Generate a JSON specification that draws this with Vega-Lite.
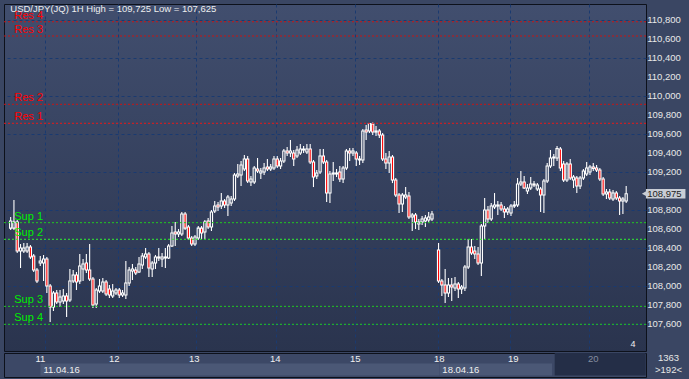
{
"$schema":"https://vega.github.io/schema/vega-lite/v6.json",
"background":"#3a4663",
"padding":{"left":3,"top":3,"right":0,"bottom":2},
"spacing":0,
"config":{"font":"Liberation Sans","axis":{"labels":false,"ticks":false,"domain":false,"grid":false,"titleOpacity":0,"titleFontSize":1,"titlePadding":0,"labelPadding":0,"minExtent":0,"maxExtent":0}},
"datasets":{
"candles":[
{"i":0,"o":108.613,"h":108.730,"l":108.592,"c":108.687},
{"i":1,"o":108.613,"h":108.908,"l":108.592,"c":108.677},
{"i":2,"o":108.677,"h":108.698,"l":108.351,"c":108.372},
{"i":3,"o":108.372,"h":108.445,"l":108.193,"c":108.403},
{"i":4,"o":108.372,"h":108.456,"l":108.351,"c":108.403},
{"i":5,"o":108.372,"h":108.456,"l":108.351,"c":108.414},
{"i":6,"o":108.414,"h":108.435,"l":108.288,"c":108.309},
{"i":7,"o":108.319,"h":108.340,"l":108.151,"c":108.172},
{"i":8,"o":108.172,"h":108.193,"l":108.035,"c":108.056},
{"i":9,"o":108.245,"h":108.319,"l":108.214,"c":108.266},
{"i":10,"o":108.245,"h":108.330,"l":108.056,"c":108.288},
{"i":11,"o":108.288,"h":108.309,"l":107.930,"c":108.003},
{"i":12,"o":108.003,"h":108.024,"l":107.625,"c":107.782},
{"i":13,"o":107.782,"h":107.951,"l":107.740,"c":107.930},
{"i":14,"o":107.930,"h":107.961,"l":107.814,"c":107.835},
{"i":15,"o":107.835,"h":107.961,"l":107.782,"c":107.887},
{"i":16,"o":107.845,"h":107.972,"l":107.814,"c":107.898},
{"i":17,"o":107.898,"h":107.930,"l":107.677,"c":107.845},
{"i":18,"o":107.856,"h":108.182,"l":107.835,"c":108.056},
{"i":19,"o":108.056,"h":108.172,"l":108.035,"c":108.119},
{"i":20,"o":108.119,"h":108.151,"l":107.961,"c":108.045},
{"i":21,"o":108.056,"h":108.340,"l":108.024,"c":108.214},
{"i":22,"o":108.182,"h":108.288,"l":108.056,"c":108.235},
{"i":23,"o":108.245,"h":108.340,"l":108.140,"c":108.172},
{"i":24,"o":108.172,"h":108.445,"l":108.056,"c":108.077},
{"i":25,"o":108.077,"h":108.098,"l":107.772,"c":107.803},
{"i":26,"o":107.814,"h":107.982,"l":107.772,"c":107.961},
{"i":27,"o":107.951,"h":108.077,"l":107.930,"c":108.003},
{"i":28,"o":107.951,"h":108.087,"l":107.930,"c":108.045},
{"i":29,"o":108.045,"h":108.066,"l":107.898,"c":107.919},
{"i":30,"o":107.972,"h":108.014,"l":107.877,"c":107.909},
{"i":31,"o":107.898,"h":108.024,"l":107.877,"c":107.951},
{"i":32,"o":107.930,"h":107.982,"l":107.909,"c":107.961},
{"i":33,"o":107.961,"h":107.982,"l":107.877,"c":107.909},
{"i":34,"o":107.909,"h":107.961,"l":107.887,"c":107.930},
{"i":35,"o":107.909,"h":108.266,"l":107.866,"c":108.035},
{"i":36,"o":108.035,"h":108.203,"l":108.003,"c":108.172},
{"i":37,"o":108.161,"h":108.235,"l":108.066,"c":108.182},
{"i":38,"o":108.172,"h":108.203,"l":108.119,"c":108.140},
{"i":39,"o":108.151,"h":108.309,"l":108.140,"c":108.235},
{"i":40,"o":108.224,"h":108.351,"l":108.182,"c":108.319},
{"i":41,"o":108.309,"h":108.403,"l":108.288,"c":108.340},
{"i":42,"o":108.340,"h":108.361,"l":108.098,"c":108.193},
{"i":43,"o":108.182,"h":108.266,"l":108.098,"c":108.245},
{"i":44,"o":108.245,"h":108.330,"l":108.182,"c":108.309},
{"i":45,"o":108.309,"h":108.403,"l":108.266,"c":108.298},
{"i":46,"o":108.288,"h":108.351,"l":108.203,"c":108.309},
{"i":47,"o":108.298,"h":108.403,"l":108.193,"c":108.309},
{"i":48,"o":108.298,"h":108.445,"l":108.288,"c":108.424},
{"i":49,"o":108.424,"h":108.635,"l":108.414,"c":108.561},
{"i":50,"o":108.572,"h":108.677,"l":108.424,"c":108.551},
{"i":51,"o":108.551,"h":108.603,"l":108.519,"c":108.572},
{"i":52,"o":108.551,"h":108.782,"l":108.529,"c":108.761},
{"i":53,"o":108.761,"h":108.782,"l":108.592,"c":108.613},
{"i":54,"o":108.624,"h":108.645,"l":108.487,"c":108.508},
{"i":55,"o":108.508,"h":108.529,"l":108.424,"c":108.445},
{"i":56,"o":108.445,"h":108.540,"l":108.424,"c":108.519},
{"i":57,"o":108.508,"h":108.635,"l":108.487,"c":108.613},
{"i":58,"o":108.613,"h":108.635,"l":108.498,"c":108.561},
{"i":59,"o":108.572,"h":108.698,"l":108.498,"c":108.677},
{"i":60,"o":108.687,"h":108.719,"l":108.603,"c":108.624},
{"i":61,"o":108.624,"h":108.803,"l":108.582,"c":108.782},
{"i":62,"o":108.793,"h":108.898,"l":108.772,"c":108.845},
{"i":63,"o":108.856,"h":108.887,"l":108.793,"c":108.835},
{"i":64,"o":108.845,"h":108.982,"l":108.814,"c":108.898},
{"i":65,"o":108.898,"h":108.919,"l":108.824,"c":108.856},
{"i":66,"o":108.856,"h":108.961,"l":108.740,"c":108.940},
{"i":67,"o":108.877,"h":108.951,"l":108.845,"c":108.919},
{"i":68,"o":108.919,"h":109.193,"l":108.898,"c":109.172},
{"i":69,"o":109.161,"h":109.287,"l":109.140,"c":109.182},
{"i":70,"o":109.172,"h":109.319,"l":109.056,"c":109.277},
{"i":71,"o":109.235,"h":109.382,"l":109.214,"c":109.340},
{"i":72,"o":109.340,"h":109.372,"l":109.087,"c":109.108},
{"i":73,"o":109.098,"h":109.161,"l":109.056,"c":109.129},
{"i":74,"o":109.098,"h":109.266,"l":109.077,"c":109.245},
{"i":75,"o":109.235,"h":109.351,"l":109.193,"c":109.214},
{"i":76,"o":109.193,"h":109.245,"l":109.129,"c":109.214},
{"i":77,"o":109.203,"h":109.298,"l":109.172,"c":109.245},
{"i":78,"o":109.256,"h":109.340,"l":109.214,"c":109.235},
{"i":79,"o":109.235,"h":109.287,"l":109.214,"c":109.256},
{"i":80,"o":109.245,"h":109.372,"l":109.224,"c":109.340},
{"i":81,"o":109.340,"h":109.372,"l":109.245,"c":109.266},
{"i":82,"o":109.266,"h":109.351,"l":109.235,"c":109.319},
{"i":83,"o":109.319,"h":109.445,"l":109.298,"c":109.424},
{"i":84,"o":109.424,"h":109.466,"l":109.372,"c":109.403},
{"i":85,"o":109.403,"h":109.540,"l":109.361,"c":109.424},
{"i":86,"o":109.403,"h":109.435,"l":109.266,"c":109.340},
{"i":87,"o":109.372,"h":109.477,"l":109.351,"c":109.435},
{"i":88,"o":109.403,"h":109.498,"l":109.382,"c":109.445},
{"i":89,"o":109.435,"h":109.477,"l":109.403,"c":109.445},
{"i":90,"o":109.414,"h":109.498,"l":109.393,"c":109.445},
{"i":91,"o":109.445,"h":109.498,"l":109.287,"c":109.308},
{"i":92,"o":109.308,"h":109.330,"l":109.045,"c":109.151},
{"i":93,"o":109.161,"h":109.224,"l":109.129,"c":109.193},
{"i":94,"o":109.203,"h":109.445,"l":109.182,"c":109.372},
{"i":95,"o":109.372,"h":109.445,"l":109.287,"c":109.308},
{"i":96,"o":109.308,"h":109.330,"l":108.887,"c":108.982},
{"i":97,"o":108.982,"h":109.214,"l":108.877,"c":109.182},
{"i":98,"o":109.182,"h":109.308,"l":109.108,"c":109.193},
{"i":99,"o":109.182,"h":109.235,"l":109.151,"c":109.193},
{"i":100,"o":109.203,"h":109.266,"l":109.098,"c":109.129},
{"i":101,"o":109.129,"h":109.266,"l":109.087,"c":109.245},
{"i":102,"o":109.245,"h":109.445,"l":109.224,"c":109.424},
{"i":103,"o":109.424,"h":109.456,"l":109.319,"c":109.403},
{"i":104,"o":109.403,"h":109.456,"l":109.372,"c":109.424},
{"i":105,"o":109.403,"h":109.424,"l":109.266,"c":109.340},
{"i":106,"o":109.330,"h":109.372,"l":109.277,"c":109.340},
{"i":107,"o":109.330,"h":109.656,"l":109.298,"c":109.635},
{"i":108,"o":109.645,"h":109.698,"l":109.540,"c":109.624},
{"i":109,"o":109.635,"h":109.720,"l":109.614,"c":109.714},
{"i":110,"o":109.708,"h":109.725,"l":109.593,"c":109.624},
{"i":111,"o":109.624,"h":109.687,"l":109.582,"c":109.635},
{"i":112,"o":109.635,"h":109.656,"l":109.561,"c":109.593},
{"i":113,"o":109.593,"h":109.614,"l":109.319,"c":109.340},
{"i":114,"o":109.340,"h":109.403,"l":109.235,"c":109.298},
{"i":115,"o":109.298,"h":109.424,"l":109.193,"c":109.361},
{"i":116,"o":109.361,"h":109.382,"l":109.087,"c":109.119},
{"i":117,"o":109.119,"h":109.140,"l":108.940,"c":108.961},
{"i":118,"o":108.961,"h":108.982,"l":108.772,"c":108.866},
{"i":119,"o":108.866,"h":108.982,"l":108.782,"c":108.961},
{"i":120,"o":108.940,"h":109.045,"l":108.919,"c":108.961},
{"i":121,"o":108.951,"h":108.993,"l":108.708,"c":108.730},
{"i":122,"o":108.730,"h":108.772,"l":108.582,"c":108.751},
{"i":123,"o":108.751,"h":108.772,"l":108.603,"c":108.677},
{"i":124,"o":108.656,"h":108.708,"l":108.592,"c":108.677},
{"i":125,"o":108.677,"h":108.740,"l":108.645,"c":108.708},
{"i":126,"o":108.687,"h":108.751,"l":108.624,"c":108.719},
{"i":127,"o":108.698,"h":108.782,"l":108.666,"c":108.730},
{"i":128,"o":108.708,"h":108.793,"l":108.687,"c":108.761},
{"i":130,"o":108.382,"h":108.456,"l":108.035,"c":108.056},
{"i":131,"o":108.056,"h":108.077,"l":107.898,"c":108.014},
{"i":132,"o":108.014,"h":108.182,"l":107.824,"c":107.930},
{"i":133,"o":107.930,"h":108.087,"l":107.887,"c":108.014},
{"i":134,"o":108.014,"h":108.087,"l":107.845,"c":107.993},
{"i":135,"o":107.982,"h":108.098,"l":107.951,"c":108.024},
{"i":136,"o":108.024,"h":108.045,"l":107.877,"c":107.972},
{"i":137,"o":107.972,"h":108.014,"l":107.919,"c":107.993},
{"i":138,"o":107.982,"h":108.224,"l":107.951,"c":108.203},
{"i":139,"o":108.203,"h":108.498,"l":108.182,"c":108.414},
{"i":140,"o":108.414,"h":108.498,"l":108.330,"c":108.351},
{"i":141,"o":108.372,"h":108.424,"l":108.288,"c":108.340},
{"i":142,"o":108.340,"h":108.414,"l":108.224,"c":108.245},
{"i":143,"o":108.245,"h":108.656,"l":108.108,"c":108.635},
{"i":144,"o":108.635,"h":108.929,"l":108.498,"c":108.803},
{"i":145,"o":108.803,"h":108.845,"l":108.666,"c":108.708},
{"i":146,"o":108.708,"h":108.877,"l":108.687,"c":108.845},
{"i":147,"o":108.835,"h":108.982,"l":108.814,"c":108.856},
{"i":148,"o":108.845,"h":108.898,"l":108.751,"c":108.856},
{"i":149,"o":108.856,"h":108.887,"l":108.793,"c":108.814},
{"i":150,"o":108.814,"h":108.845,"l":108.719,"c":108.782},
{"i":151,"o":108.782,"h":108.835,"l":108.751,"c":108.814},
{"i":152,"o":108.772,"h":108.866,"l":108.740,"c":108.845},
{"i":153,"o":108.845,"h":108.898,"l":108.824,"c":108.856},
{"i":154,"o":108.856,"h":109.140,"l":108.835,"c":109.077},
{"i":155,"o":109.077,"h":109.214,"l":109.056,"c":109.098},
{"i":156,"o":109.098,"h":109.161,"l":109.024,"c":109.035},
{"i":157,"o":109.003,"h":109.077,"l":108.972,"c":109.035},
{"i":158,"o":109.035,"h":109.151,"l":109.014,"c":109.077},
{"i":159,"o":109.077,"h":109.108,"l":109.045,"c":109.066},
{"i":160,"o":109.024,"h":109.087,"l":109.003,"c":109.066},
{"i":161,"o":109.024,"h":109.045,"l":108.782,"c":108.961},
{"i":162,"o":108.961,"h":109.129,"l":108.772,"c":109.108},
{"i":163,"o":109.108,"h":109.298,"l":109.087,"c":109.266},
{"i":164,"o":109.266,"h":109.435,"l":109.245,"c":109.351},
{"i":165,"o":109.351,"h":109.393,"l":109.266,"c":109.361},
{"i":166,"o":109.351,"h":109.477,"l":109.319,"c":109.450},
{"i":167,"o":109.445,"h":109.466,"l":109.214,"c":109.245},
{"i":168,"o":109.287,"h":109.319,"l":109.098,"c":109.119},
{"i":169,"o":109.119,"h":109.308,"l":109.098,"c":109.287},
{"i":170,"o":109.287,"h":109.340,"l":109.119,"c":109.140},
{"i":171,"o":109.119,"h":109.172,"l":109.035,"c":109.151},
{"i":172,"o":109.140,"h":109.161,"l":108.982,"c":109.056},
{"i":173,"o":109.056,"h":109.161,"l":109.024,"c":109.140},
{"i":174,"o":109.140,"h":109.235,"l":109.119,"c":109.214},
{"i":175,"o":109.182,"h":109.308,"l":109.161,"c":109.245},
{"i":176,"o":109.203,"h":109.277,"l":109.172,"c":109.256},
{"i":177,"o":109.256,"h":109.298,"l":109.214,"c":109.240},
{"i":178,"o":109.245,"h":109.277,"l":109.203,"c":109.224},
{"i":179,"o":109.224,"h":109.245,"l":109.108,"c":109.129},
{"i":180,"o":109.129,"h":109.151,"l":108.951,"c":108.972},
{"i":181,"o":108.972,"h":109.024,"l":108.919,"c":108.993},
{"i":182,"o":108.993,"h":109.024,"l":108.908,"c":108.929},
{"i":183,"o":108.919,"h":109.014,"l":108.898,"c":108.982},
{"i":184,"o":108.982,"h":109.003,"l":108.908,"c":108.929},
{"i":185,"o":108.929,"h":108.951,"l":108.751,"c":108.898},
{"i":186,"o":108.898,"h":108.940,"l":108.761,"c":108.919},
{"i":187,"o":108.898,"h":109.056,"l":108.877,"c":108.975}
],
"levels":[
{"name":"Res 4","value":110.785},{"name":"Res 3","value":110.635},{"name":"Res 2","value":109.916},{"name":"Res 1","value":109.716},
{"name":"Sup 1","value":108.67},{"name":"Sup 2","value":108.495},{"name":"Sup 3","value":107.789},{"name":"Sup 4","value":107.6}
],
"ticks":[
{"v":110.8,"t":"110,800"},{"v":110.6,"t":"110,600"},{"v":110.4,"t":"110,400"},{"v":110.2,"t":"110,200"},{"v":110.0,"t":"110,000"},
{"v":109.8,"t":"109,800"},{"v":109.6,"t":"109,600"},{"v":109.4,"t":"109,400"},{"v":109.2,"t":"109,200"},
{"v":108.8,"t":"108,800"},{"v":108.6,"t":"108,600"},{"v":108.4,"t":"108,400"},{"v":108.2,"t":"108,200"},{"v":108.0,"t":"108,000"},
{"v":107.8,"t":"107,800"},{"v":107.6,"t":"107,600"}
],
"days":[
{"pos":10.36,"label":"11"},{"pos":32.49,"label":"12"},{"pos":56.41,"label":"13"},{"pos":80.64,"label":"14"},
{"pos":104.56,"label":"15"},{"pos":129.68,"label":"18"},{"pos":151.81,"label":"19"},{"pos":175.74,"label":"20"}
],
"strips":[
{"start":10.4,"end":129.6,"label":"11.04.16"},{"start":129.7,"end":163.4,"label":"18.04.16"}
]
},
"vconcat":[
{
"width":642,"height":347,
"view":{"fill":{"gradient":"linear","x1":0,"y1":0,"x2":0,"y2":1,"stops":[{"offset":0,"color":"#414e6e"},{"offset":1,"color":"#2a344e"}]},"stroke":"#0d111b","strokeWidth":1},
"layer":[
{
"data":{"name":"candles"},
"encoding":{
"x":{"field":"i","type":"quantitative","scale":{"domain":[-0.5,191.5],"nice":false,"zero":false},
"axis":{"values":[10.36,32.49,56.41,80.64,104.56,129.68,151.81,175.74],"grid":true,"gridColor":"#1a3a70","gridDash":[3,3],"labels":false,"ticks":false,"domain":false,"title":null}},
"y":{"type":"quantitative","scale":{"domain":[107.319,110.972],"nice":false,"zero":false},
"axis":{"orient":"right","values":[107.6,107.8,108,108.2,108.4,108.6,108.8,109,109.2,109.4,109.6,109.8,110,110.2,110.4,110.6,110.8],"grid":true,"gridColor":"#1a3a70","gridDash":[3,3],"labels":false,"ticks":false,"domain":false,"title":null,"minExtent":44,"maxExtent":44}}
},
"layer":[
{"transform":[{"filter":"datum.c >= datum.o"}],"mark":{"type":"rule","color":"#ffffff","strokeWidth":1.1},"encoding":{"y":{"field":"h"},"y2":{"field":"c"}}},
{"transform":[{"filter":"datum.c >= datum.o"}],"mark":{"type":"rule","color":"#ffffff","strokeWidth":1.1},"encoding":{"y":{"field":"o"},"y2":{"field":"l"}}},
{"transform":[{"filter":"datum.c >= datum.o"}],"mark":{"type":"bar","width":2.2,"fill":"transparent","stroke":"#ffffff","strokeWidth":1.1},"encoding":{"y":{"field":"o"},"y2":{"field":"c"}}},
{"transform":[{"filter":"datum.c < datum.o"}],"mark":{"type":"rule","color":"#ffffff","strokeWidth":1.1},"encoding":{"y":{"field":"h"},"y2":{"field":"o"}}},
{"transform":[{"filter":"datum.c < datum.o"}],"mark":{"type":"rule","color":"#ffffff","strokeWidth":1.1},"encoding":{"y":{"field":"c"},"y2":{"field":"l"}}},
{"transform":[{"filter":"datum.c < datum.o"}],"mark":{"type":"bar","width":2.2,"fill":"#ff0000","stroke":"#ffffff","strokeWidth":1.1},"encoding":{"y":{"field":"o"},"y2":{"field":"c"}}}
]
},
{"data":{"name":"levels"},"mark":{"type":"rule","strokeDash":[2,2],"strokeWidth":1},
"encoding":{"y":{"field":"value","type":"quantitative","scale":{"domain":[107.319,110.972],"nice":false,"zero":false}},
"stroke":{"field":"name","type":"nominal","scale":{"domain":["Res 1","Res 2","Res 3","Res 4","Sup 1","Sup 2","Sup 3","Sup 4"],"range":["#e81818","#c81414","#c81414","#c81414","#22c822","#30f030","#22c822","#22c822"]},"legend":null}}},
{"data":{"name":"levels"},"mark":{"type":"text","align":"left","baseline":"alphabetic","dy":-3,"fontSize":11},
"encoding":{"x":{"datum":1.1,"type":"quantitative"},"y":{"field":"value","type":"quantitative"},"text":{"field":"name"},
"fill":{"field":"name","type":"nominal","scale":{"domain":["Res 1","Res 2","Res 3","Res 4","Sup 1","Sup 2","Sup 3","Sup 4"],"range":["#ff0000","#ff0000","#ff0000","#ff0000","#00ee00","#00ee00","#00ee00","#00ee00"]},"legend":null}}},
{"data":{"name":"ticks"},"mark":{"type":"text","align":"left","baseline":"middle","fontSize":9.5,"color":"#e8e8e8"},
"encoding":{"x":{"datum":193.4,"type":"quantitative"},"y":{"field":"v","type":"quantitative"},"text":{"field":"t"}}},
{"data":{"values":[{"label":"108,975","value":108.975}]},"mark":{"type":"rect","color":"#c9cdd5"},
"encoding":{"x":{"datum":193.0,"type":"quantitative"},"x2":{"datum":205},"y":{"datum":108.925,"type":"quantitative"},"y2":{"datum":109.025}}},
{"data":{"values":[{"label":"108,975","value":108.975}]},"mark":{"type":"point","shape":"triangle-left","filled":true,"color":"#c9cdd5","size":40,"opacity":1},
"encoding":{"x":{"datum":192.6,"type":"quantitative"},"y":{"field":"value","type":"quantitative"}}},
{"data":{"values":[{"label":"108,975","value":108.975}]},"mark":{"type":"text","align":"left","baseline":"middle","fontSize":9.5,"color":"#222222"},
"encoding":{"x":{"datum":193.4,"type":"quantitative"},"y":{"field":"value","type":"quantitative"},"text":{"field":"label"}}},
{"data":{"values":[{"text":"USD/JPY(JQ) 1H High = 109,725 Low = 107,625"}]},"mark":{"type":"text","align":"left","baseline":"middle","fontSize":9.5,"color":"#eeeeee"},
"encoding":{"x":{"datum":-0.1,"type":"quantitative"},"y":{"datum":110.915,"type":"quantitative"},"text":{"field":"text"}}},
{"data":{"values":[{"text":"4"}]},"mark":{"type":"text","align":"center","baseline":"middle","fontSize":9,"color":"#eeeeee"},
"encoding":{"x":{"datum":189.1,"type":"quantitative"},"y":{"datum":107.393,"type":"quantitative"},"text":{"field":"text"}}}
]
},
{
"width":642,"height":24,
"view":{"fill":"#3c4866","stroke":"#0d111b","strokeWidth":1},
"layer":[
{"data":{"name":"strips"},"mark":{"type":"rect","color":"#4b5876"},
"encoding":{"x":{"field":"start","type":"quantitative","scale":{"domain":[-0.5,191.5],"nice":false,"zero":false},"axis":{"title":null}},"x2":{"field":"end"},
"y":{"datum":0.06,"type":"quantitative","scale":{"domain":[0,1],"nice":false,"zero":false},
"axis":{"orient":"right","values":[0.81,0.31],"labelExpr":"datum.value > 0.5 ? '1363' : '>192<'","labels":true,"labelOverlap":false,"labelAlign":"center","labelBaseline":"middle","labelPadding":22,"ticks":false,"domain":false,"grid":false,"title":null,"labelColor":"#e6e6e6","labelFontSize":9.5,"minExtent":44,"maxExtent":44}},
"y2":{"datum":0.56}}},
{"data":{"values":[{"start":164.2,"end":191.4}]},"mark":{"type":"rect","color":"#242e47"},
"encoding":{"x":{"field":"start","type":"quantitative","axis":{"title":null}},"x2":{"field":"end"},
"y":{"datum":0.06,"type":"quantitative"},"y2":{"datum":1.0}}},
{"data":{"name":"days"},"mark":{"type":"text","align":"center","baseline":"middle","fontSize":9.5},
"encoding":{"x":{"field":"pos","type":"quantitative","axis":{"title":null}},
"y":{"datum":0.77,"type":"quantitative"},"text":{"field":"label"},
"color":{"condition":{"test":"datum.label == '20'","value":"#858da0"},"value":"#f0f0f0"}}},
{"data":{"name":"strips"},"mark":{"type":"text","align":"left","baseline":"middle","dx":3,"fontSize":9.5,"color":"#f0f0f0"},
"encoding":{"x":{"field":"start","type":"quantitative","axis":{"title":null}},
"y":{"datum":0.31,"type":"quantitative"},"text":{"field":"label"}}}
]
}
]
}
